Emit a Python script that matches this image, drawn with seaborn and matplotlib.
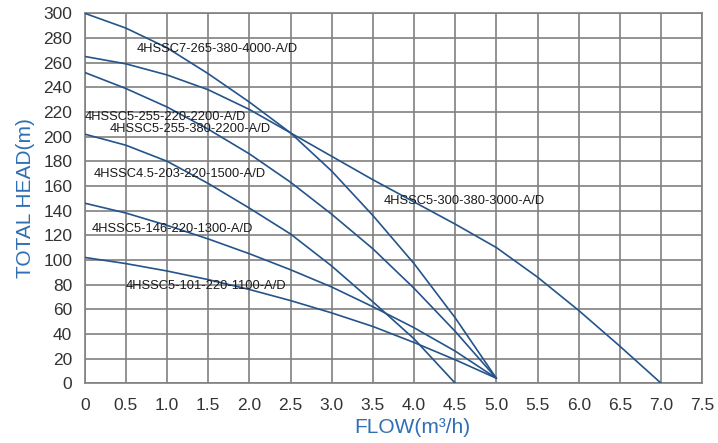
import pandas as pd
import matplotlib.pyplot as plt
import seaborn as sns

# Pump curves: flow (m3/h) vs total head (m)
flow_to_5 = [0, 0.5, 1.0, 1.5, 2.0, 2.5, 3.0, 3.5, 4.0, 4.5, 5.0]
flow_to_45 = [0, 0.5, 1.0, 1.5, 2.0, 2.5, 3.0, 3.5, 4.0, 4.5]
flow_to_7 = [0, 0.5, 1.0, 1.5, 2.0, 2.5, 3.0, 3.5, 4.0, 4.5, 5.0, 5.5, 6.0, 6.5, 7.0]

head_300 = [300, 288, 272, 251, 228, 203, 172, 136, 97, 53, 4]
head_265 = [265, 259, 250, 238, 222, 203, 184, 165, 147, 129, 110, 86, 59, 30, 0]
head_252 = [252, 239, 224, 206, 186, 163, 137, 109, 77, 42, 4]
head_202 = [202, 193, 180, 162, 142, 121, 95, 66, 36, 0]
head_146 = [146, 138, 128, 117, 105, 92, 78, 62, 45, 26, 4]
head_102 = [102, 97, 91, 84, 76, 67, 57, 46, 33, 19, 4]

curve_labels = [
    "4HSSC7-265-380-4000-A/D",
    "4HSSC5-255-220-2200-A/D",
    "4HSSC5-255-380-2200-A/D",
    "4HSSC4.5-203-220-1500-A/D",
    "4HSSC5-146-220-1300-A/D",
    "4HSSC5-101-220-1100-A/D",
    "4HSSC5-300-380-3000-A/D",
]

x_ticks = [0, 0.5, 1.0, 1.5, 2.0, 2.5, 3.0, 3.5, 4.0, 4.5, 5.0, 5.5, 6.0, 6.5, 7.0, 7.5]
x_tick_labels = ["0"] + [f"{v:.1f}" for v in x_ticks[1:]]
y_ticks = list(range(0, 301, 20))

# build one long table for seaborn
curves = [
    ("c300", flow_to_5, head_300),
    ("c265", flow_to_7, head_265),
    ("c252", flow_to_5, head_252),
    ("c202", flow_to_45, head_202),
    ("c146", flow_to_5, head_146),
    ("c102", flow_to_5, head_102),
]
rows = []
for name, fl, hd in curves:
    for f, h in zip(fl, hd):
        rows.append({"curve": name, "flow": f, "head": h})
df = pd.DataFrame(rows)

sns.set_style("white")
plt.rcParams["font.family"] = ["Liberation Sans", "DejaVu Sans"]

line_color = "#24548a"
grid_color = "#808080"
blue_text = "#2f6fb3"

fig, ax = plt.subplots(figsize=(7.18, 4.43), dpi=100)
fig.subplots_adjust(left=0.118, right=0.978, top=0.970, bottom=0.135)

sns.lineplot(data=df, x="flow", y="head", hue="curve",
             palette={n: line_color for n, _, _ in curves},
             linewidth=1.2, legend=False, ax=ax, sort=True, zorder=3)

ax.set_xlim(0, 7.5)
ax.set_ylim(0, 300)
ax.set_xticks(x_ticks)
ax.set_xticklabels(x_tick_labels)
ax.set_yticks(y_ticks)
ax.grid(True, color=grid_color, linewidth=1.2)
ax.set_axisbelow(True)
for sp in ax.spines.values():
    sp.set_color(grid_color)
    sp.set_linewidth(1.2)
ax.tick_params(axis="both", which="both", length=5, width=1.2, color=grid_color,
               labelsize=12.5, labelcolor="#333333", pad=4)
ax.tick_params(axis="x", pad=6)

ax.set_xlabel("FLOW(m³/h)", fontsize=15, color=blue_text)
ax.xaxis.set_label_coords(0.53, -0.095)
ax.set_ylabel("TOTAL HEAD(m)", fontsize=15, color=blue_text, labelpad=6)

label_pos = [(0.63, 271), (0.0, 216), (0.30, 206), (0.11, 170), (0.09, 125), (0.50, 78.5), (3.63, 148)]
for txt, (lx, ly) in zip(curve_labels, label_pos):
    ax.text(lx, ly, txt, fontsize=9.3, color="#1a1a1a", ha="left", va="center", zorder=4)

fig.savefig("out.png", dpi=100)
